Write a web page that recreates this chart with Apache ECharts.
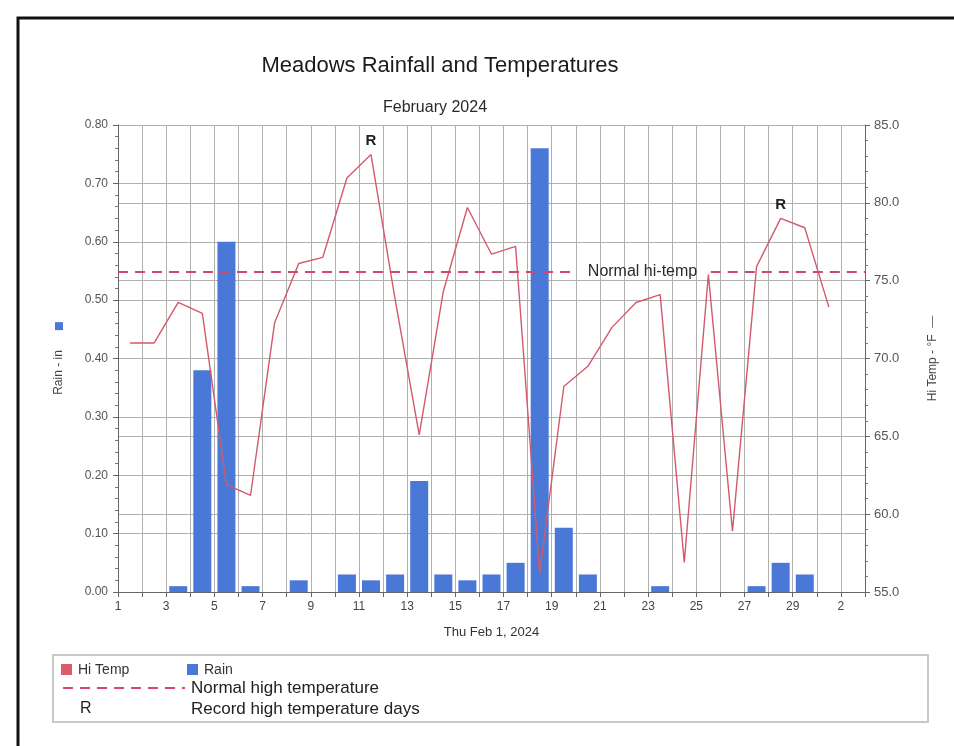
<!DOCTYPE html>
<html>
<head>
<meta charset="utf-8">
<script src="https://cdn.jsdelivr.net/npm/echarts@6/dist/echarts.min.js"></script>
<style>
html,body{margin:0;padding:0;background:#fff;}
#c{width:954px;height:746px;}
</style>
</head>
<body>
<div id="c"></div>
<script>
// ---- data ----
const TITLE = 'Meadows Rainfall and Temperatures';
const SUBTITLE = 'February 2024';
const X_NAME = 'Thu Feb 1, 2024';
// day numbers (1..29 = Feb, 30 = Mar 1, 31 = Mar 2, 32 = Mar 3)
const X_LABELS = ['1','','3','','5','','7','','9','','11','','13','','15','','17','','19','','21','','23','','25','','27','','29','','2',''];
const TEMP_DAYS = [1,2,3,4,5,6,7,8,9,10,11,12,13,14,15,16,17,18,19,20,21,22,23,24,25,26,27,28,29,30];
const HI_TEMP = [71.0,71.0,73.6,72.9,61.9,61.2,72.3,76.1,76.5,81.6,83.1,73.8,65.1,74.3,79.7,76.7,77.2,56.2,68.2,69.5,72.0,73.6,74.1,56.9,75.4,58.9,75.9,79.0,78.4,73.3];
const RAIN_DAYS = [3,4,5,6,8,10,11,12,13,14,15,16,17,18,19,20,23,27,28,29];
const RAIN = [0.01,0.38,0.60,0.01,0.02,0.03,0.02,0.03,0.19,0.03,0.02,0.03,0.05,0.76,0.11,0.03,0.01,0.01,0.05,0.03];
const RECORD_DAYS = [11,28];
const NORMAL_HI = 75.6;
const LEFT_TICKS = [0,0.1,0.2,0.3,0.4,0.5,0.6,0.7,0.8];
const RIGHT_TICKS = [55,60,65,70,75,80,85];

const FONT = "'Liberation Sans', Arial, sans-serif";
const RAIN_COLOR = '#4a78d6';
const TEMP_COLOR = '#d35a6c';
const NORMAL_COLOR = '#d2486c';
const GRID_COLOR = '#b0b0b0';

const chart = echarts.init(document.getElementById('c'), null, {renderer:'canvas'});

const option = {
  backgroundColor: '#ffffff',
  animation: false,
  textStyle: {fontFamily: FONT},
  title: [
    {text: TITLE, left: 435, top: 50, textAlign: 'center',
     textStyle: {fontSize: 22, fontWeight: 'normal', color: '#1a1a1a', fontFamily: FONT}},
    {text: SUBTITLE, left: 430, top: 95, textAlign: 'center',
     textStyle: {fontSize: 16, fontWeight: 'normal', color: '#2a2a2a', fontFamily: FONT}}
  ],
  grid: {left: 118, right: 89, top: 125, bottom: 154, containLabel: false},
  xAxis: {
    type: 'value', min: 1, max: 32, interval: 1,
    name: X_NAME, nameLocation: 'middle', nameGap: 34,
    nameTextStyle: {fontSize: 13, color: '#333', fontFamily: FONT},
    axisLine: {show: true, lineStyle: {color: '#666', width: 1}},
    axisTick: {show: true, length: 5, lineStyle: {color: '#666'}},
    axisLabel: {fontSize: 12, color: '#444', margin: 9, fontFamily: FONT,
      showMinLabel: true, showMaxLabel: true,
      formatter: v => X_LABELS[Math.round(v) - 1] || ''},
    splitLine: {show: true, lineStyle: {color: GRID_COLOR, width: 1}}
  },
  yAxis: [
    {
      type: 'value', position: 'left', min: LEFT_TICKS[0], max: LEFT_TICKS[LEFT_TICKS.length-1], interval: 0.1,
      name: 'Rain - in      {sq|}', nameLocation: 'middle', nameRotate: 90, nameGap: 53,
      nameTextStyle: {fontSize: 12, color: '#444', fontFamily: FONT,
        rich: {sq: {width: 8, height: 8, backgroundColor: RAIN_COLOR}}},
      axisLine: {show: true, lineStyle: {color: '#666'}},
      axisTick: {show: true, length: 5, lineStyle: {color: '#666'}},
      minorTick: {show: true, splitNumber: 5, length: 3, lineStyle: {color: '#777'}},
      axisLabel: {fontSize: 12, color: '#555', margin: 10, fontFamily: FONT, formatter: v => v.toFixed(2)},
      splitLine: {show: true, lineStyle: {color: GRID_COLOR, width: 1}}
    },
    {
      type: 'value', position: 'right', min: RIGHT_TICKS[0], max: RIGHT_TICKS[RIGHT_TICKS.length-1], interval: 5,
      name: 'Hi Temp - \u00B0F  {ln|\u2014}', nameLocation: 'middle', nameRotate: 90, nameGap: 62,
      nameTextStyle: {fontSize: 12, color: '#444', fontFamily: FONT,
        rich: {ln: {fontSize: 12, color: '#666'}}},
      axisLine: {show: true, lineStyle: {color: '#666'}},
      axisTick: {show: true, length: 5, lineStyle: {color: '#666'}},
      minorTick: {show: true, splitNumber: 5, length: 3, lineStyle: {color: '#777'}},
      axisLabel: {fontSize: 13, color: '#555', margin: 9, fontFamily: FONT, formatter: v => v.toFixed(1)},
      splitLine: {show: true, lineStyle: {color: GRID_COLOR, width: 1}}
    }
  ],
  series: [
    {
      name: 'Rain', type: 'bar', yAxisIndex: 0, barWidth: 18,
      itemStyle: {color: RAIN_COLOR},
      data: RAIN_DAYS.map((d, i) => [d + 0.5, RAIN[i]]),
      z: 2
    },
    {
      name: 'Hi Temp', type: 'line', yAxisIndex: 1, symbol: 'none',
      lineStyle: {color: TEMP_COLOR, width: 1.4},
      itemStyle: {color: TEMP_COLOR},
      data: TEMP_DAYS.map((d, i) => [d + 0.5, HI_TEMP[i]]),
      z: 4,
      markLine: {
        silent: true, symbol: ['none', 'none'],
        lineStyle: {color: NORMAL_COLOR, type: [10, 7], width: 2},
        label: {show: false},
        data: [
          [{coord: [1, NORMAL_HI], label: {show: true, position: 'end', distance: 12, formatter: 'Normal hi-temp',
              fontSize: 16, color: '#2a2a2a', fontFamily: FONT}},
           {coord: [20.0, NORMAL_HI]}],
          [{coord: [25.6, NORMAL_HI]}, {coord: [32, NORMAL_HI]}]
        ]
      },
      markPoint: {
        silent: true, symbol: 'circle', symbolSize: 1,
        itemStyle: {color: 'rgba(0,0,0,0)'},
        label: {show: true, formatter: 'R', position: 'top', distance: 6,
          fontSize: 15, fontWeight: 'bold', color: '#222', fontFamily: FONT},
        data: RECORD_DAYS.map(d => ({coord: [d + 0.5, HI_TEMP[d - 1]]}))
      }
    }
  ],
  graphic: [
    {type: 'rect', shape: {x: 18, y: 18, width: 980, height: 780}, style: {fill: 'none', stroke: '#111', lineWidth: 3}, silent: true},
    {type: 'rect', shape: {x: 53, y: 655, width: 875, height: 67}, style: {fill: 'none', stroke: '#c8c8c8', lineWidth: 2}, silent: true},
    {type: 'rect', shape: {x: 61, y: 664, width: 11, height: 11}, style: {fill: '#dd5c6c'}, silent: true},
    {type: 'text', x: 78, y: 670, style: {text: 'Hi Temp', fill: '#333', font: "14px " + FONT, textVerticalAlign: 'middle'}, silent: true},
    {type: 'rect', shape: {x: 187, y: 664, width: 11, height: 11}, style: {fill: RAIN_COLOR}, silent: true},
    {type: 'text', x: 204, y: 670, style: {text: 'Rain', fill: '#333', font: "14px " + FONT, textVerticalAlign: 'middle'}, silent: true},
    {type: 'line', shape: {x1: 63, y1: 688, x2: 185, y2: 688}, style: {stroke: NORMAL_COLOR, lineWidth: 2, lineDash: [10, 7]}, silent: true},
    {type: 'text', x: 191, y: 688, style: {text: 'Normal high temperature', fill: '#222', font: "17px " + FONT, textVerticalAlign: 'middle'}, silent: true},
    {type: 'text', x: 80, y: 709, style: {text: 'R', fill: '#222', font: "16px " + FONT, textVerticalAlign: 'middle'}, silent: true},
    {type: 'text', x: 191, y: 709, style: {text: 'Record high temperature days', fill: '#222', font: "17px " + FONT, textVerticalAlign: 'middle'}, silent: true}
  ]
};

chart.setOption(option);
</script>
</body>
</html>
